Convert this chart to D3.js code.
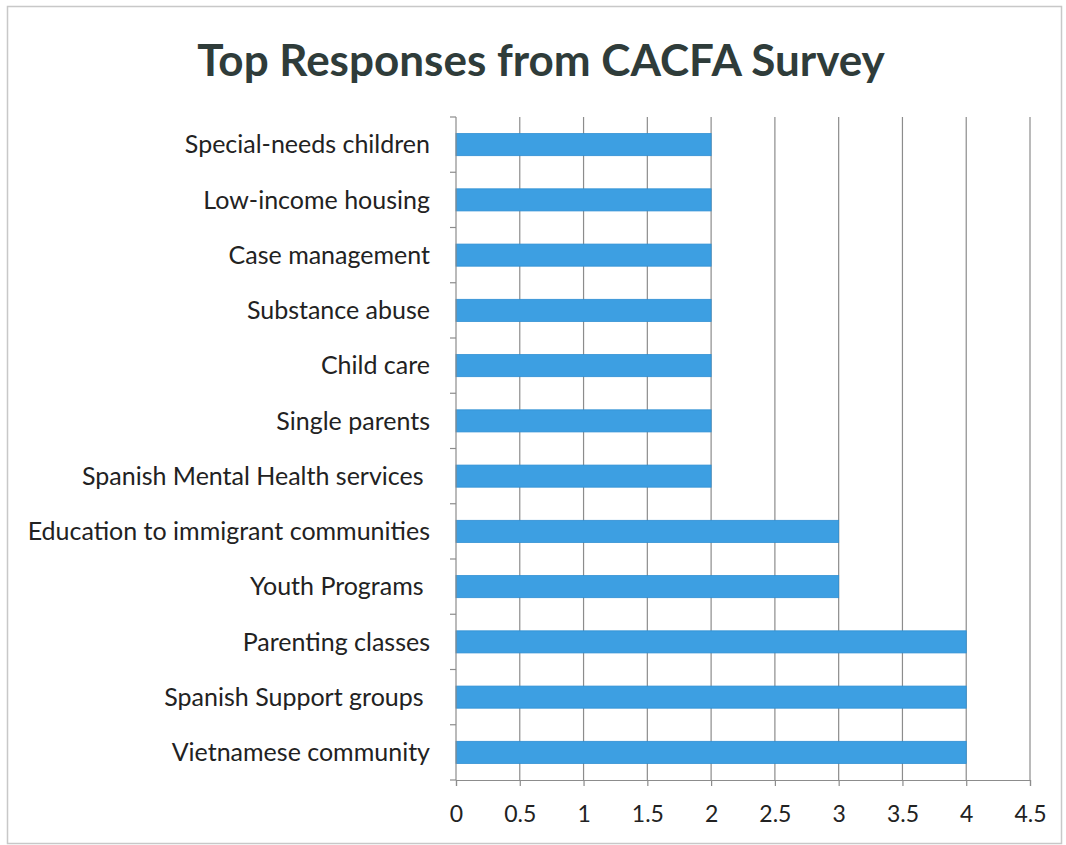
<!DOCTYPE html>
<html>
<head>
<meta charset="utf-8">
<script src="https://cdn.jsdelivr.net/npm/d3@7"></script>
<style>
  html, body { margin: 0; padding: 0; background: #fff; }
  svg { display: block; }
  text { font-family: Lato, "Open Sans", sans-serif; }
  .cat-label { white-space: pre; }
</style>
</head>
<body>
<svg id="chart" width="1066" height="845"></svg>
<script>
// Survey categories, top to bottom (some carry a trailing space)
const categories = [
  "Special-needs children",
  "Low-income housing",
  "Case management",
  "Substance abuse",
  "Child care",
  "Single parents",
  "Spanish Mental Health services ",
  "Education to immigrant communities",
  "Youth Programs ",
  "Parenting classes",
  "Spanish Support groups ",
  "Vietnamese community"
];
// Number of responses for each category
const responses = [2, 2, 2, 2, 2, 2, 2, 3, 3, 4, 4, 4];
// Value axis ticks
const xTicks = [0, 0.5, 1, 1.5, 2, 2.5, 3, 3.5, 4, 4.5];

const svg = d3.select("#chart");
const W = 1066, H = 845;
const plot = { left: 456, right: 1030, top: 117, bottom: 780 };

// Outer chart border
svg.append("rect")
  .attr("x", 7.5).attr("y", 6.5)
  .attr("width", W - 12).attr("height", H - 8)
  .attr("fill", "none").attr("stroke", "#c8c8c8").attr("stroke-width", 1.5);

// Title
svg.append("text")
  .attr("x", 541).attr("y", 76)
  .attr("text-anchor", "middle")
  .attr("font-size", 44).attr("font-weight", 700)
  .attr("fill", "#2f3c3a")
  .text("Top Responses from CACFA Survey");

const x = d3.scaleLinear().domain([0, 4.5]).range([plot.left, plot.right]);
const y = d3.scaleBand().domain(categories).range([plot.top, plot.bottom]).paddingInner(0.6).paddingOuter(0.3);

// Vertical gridlines
svg.append("g").selectAll("line")
  .data(xTicks.filter(d => d > 0))
  .join("line")
  .attr("x1", d => x(d)).attr("x2", d => x(d))
  .attr("y1", plot.top).attr("y2", plot.bottom)
  .attr("stroke", "#8c8c8c").attr("stroke-width", 1.2);

// Bars
svg.append("g").selectAll("rect")
  .data(categories)
  .join("rect")
  .attr("x", x(0))
  .attr("y", d => y(d))
  .attr("width", (d, i) => x(responses[i]) - x(0))
  .attr("height", y.bandwidth())
  .attr("fill", "#3d9fe2")
  .attr("stroke", "#2f8fd3").attr("stroke-width", 0.8);

// Category axis with ticks at band boundaries
const bandStep = (plot.bottom - plot.top) / categories.length;
const yBounds = d3.range(categories.length + 1).map(i => plot.top + i * bandStep);
const gy = svg.append("g");
gy.append("line")
  .attr("x1", plot.left).attr("x2", plot.left)
  .attr("y1", plot.top).attr("y2", plot.bottom)
  .attr("stroke", "#8c8c8c").attr("stroke-width", 1.2);
gy.selectAll("line.tick")
  .data(yBounds)
  .join("line").attr("class", "tick")
  .attr("x1", plot.left - 6).attr("x2", plot.left)
  .attr("y1", d => d).attr("y2", d => d)
  .attr("stroke", "#8c8c8c").attr("stroke-width", 1.2);
gy.selectAll("text")
  .data(categories)
  .join("text")
  .attr("class", "cat-label")
  .attr("x", 430)
  .attr("y", d => y(d) + y.bandwidth() / 2)
  .attr("dy", "0.35em")
  .attr("text-anchor", "end")
  .attr("font-size", 25)
  .attr("fill", "#222")
  .text(d => d);

// Value axis
const gx = svg.append("g").attr("transform", `translate(0,${plot.bottom})`);
gx.call(d3.axisBottom(x).tickValues(xTicks).tickSize(6).tickPadding(20)
  .tickFormat(d => String(d)));
gx.select(".domain").attr("stroke", "#8c8c8c").attr("stroke-width", 1.2);
gx.selectAll(".tick line").attr("stroke", "#8c8c8c").attr("stroke-width", 1.2);
gx.selectAll(".tick text")
  .attr("font-size", 23).attr("fill", "#222")
  .attr("font-family", "Lato, 'Open Sans', sans-serif");
</script>
</body>
</html>
